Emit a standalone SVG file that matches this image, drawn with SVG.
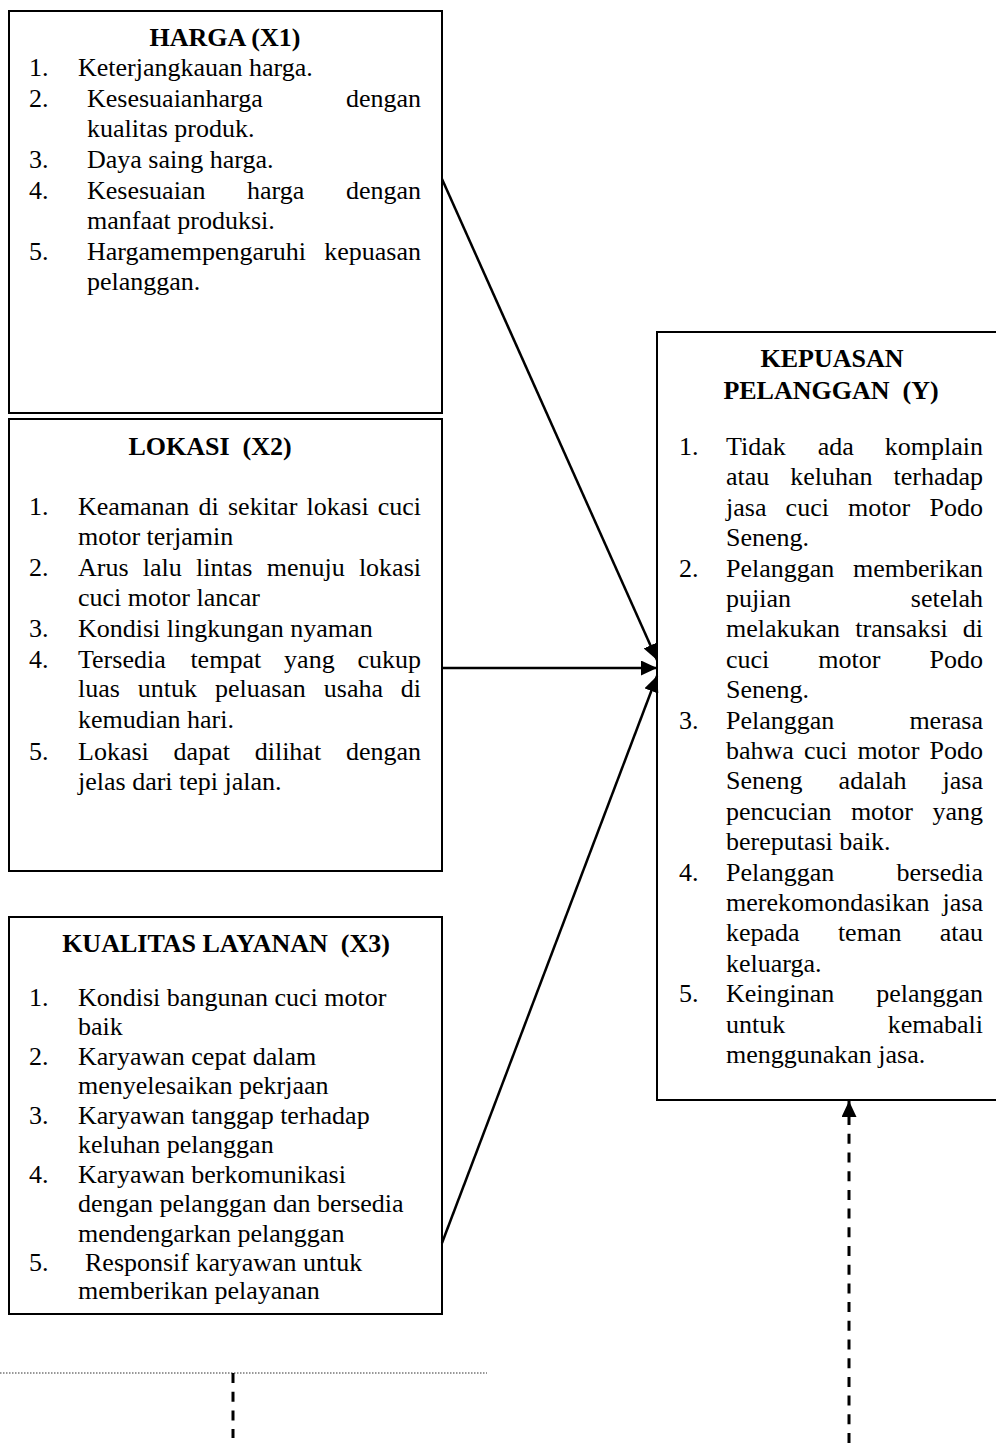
<svg xmlns="http://www.w3.org/2000/svg" width="996" height="1443" viewBox="0 0 996 1443">
<style>
text{font-family:"Liberation Serif","Times New Roman",serif;font-size:26px;fill:#000}
.h{font-weight:bold;text-anchor:middle}
.e{text-anchor:end}
.box{fill:#fff;stroke:#000;stroke-width:2}
.ln{fill:none;stroke:#000;stroke-width:2.5}
.dash{fill:none;stroke:#000;stroke-width:3;stroke-dasharray:10 8.7}
.dot{fill:none;stroke:#333;stroke-width:1.2;stroke-dasharray:1.5 1.5}
</style>
<defs>
<marker id="ah" viewBox="0 0 16 15" markerWidth="16" markerHeight="15" refX="16" refY="7.5" orient="auto" markerUnits="userSpaceOnUse">
<path d="M0,0 L16,7.5 L0,15 z" fill="#000"/>
</marker>
</defs>
<rect width="996" height="1443" fill="#fff"/>

<g id="harga">
<rect class="box" x="9" y="11" width="433" height="402"/>
<text class="h" x="225" y="46">HARGA (X1)</text>
<text x="29" y="76">1.</text><text x="78" y="76">Keterjangkauan harga.</text>
<text x="29" y="107">2.</text><text x="87" y="107">Kesesuaianharga</text><text class="e" x="421" y="107">dengan</text>
<text x="87" y="137">kualitas produk.</text>
<text x="29" y="168">3.</text><text x="87" y="168">Daya saing harga.</text>
<text x="29" y="199">4.</text><text x="87" y="199">Kesesuaian</text><text x="247" y="199">harga</text><text class="e" x="421" y="199">dengan</text>
<text x="87" y="229">manfaat produksi.</text>
<text x="29" y="260">5.</text><text x="87" y="260">Hargamempengaruhi</text><text class="e" x="421" y="260">kepuasan</text>
<text x="87" y="290">pelanggan.</text>
</g>

<g id="lokasi">
<rect class="box" x="9" y="419" width="433" height="452"/>
<text class="h" x="210" y="455">LOKASI&#160; (X2)</text>
<text x="29" y="515">1.</text><text x="78" y="515">Keamanan</text><text x="198.5" y="515">di</text><text x="228" y="515">sekitar</text><text x="306.5" y="515">lokasi</text><text class="e" x="421" y="515">cuci</text>
<text x="78" y="545">motor terjamin</text>
<text x="29" y="576">2.</text><text x="78" y="576">Arus</text><text x="142.8" y="576">lalu</text><text x="196.1" y="576">lintas</text><text x="266.7" y="576">menuju</text><text class="e" x="421" y="576">lokasi</text>
<text x="78" y="606">cuci motor lancar</text>
<text x="29" y="637">3.</text><text x="78" y="637">Kondisi lingkungan nyaman</text>
<text x="29" y="668">4.</text><text x="78" y="668">Tersedia</text><text x="190.4" y="668">tempat</text><text x="284.1" y="668">yang</text><text class="e" x="421" y="668">cukup</text>
<text x="78" y="697">luas</text><text x="137.8" y="697">untuk</text><text x="214.9" y="697">peluasan</text><text x="323.8" y="697">usaha</text><text class="e" x="421" y="697">di</text>
<text x="78" y="728">kemudian hari.</text>
<text x="29" y="760">5.</text><text x="78" y="760">Lokasi</text><text x="173.6" y="760">dapat</text><text x="254.7" y="760">dilihat</text><text class="e" x="421" y="760">dengan</text>
<text x="78" y="790">jelas dari tepi jalan.</text>
</g>

<g id="kualitas">
<rect class="box" x="9" y="917" width="433" height="397"/>
<text class="h" x="226" y="952">KUALITAS LAYANAN&#160; (X3)</text>
<text x="29" y="1006">1.</text><text x="78" y="1006">Kondisi bangunan cuci motor</text>
<text x="78" y="1035">baik</text>
<text x="29" y="1065">2.</text><text x="78" y="1065">Karyawan cepat dalam</text>
<text x="78" y="1094">menyelesaikan pekrjaan</text>
<text x="29" y="1124">3.</text><text x="78" y="1124">Karyawan tanggap terhadap</text>
<text x="78" y="1153">keluhan pelanggan</text>
<text x="29" y="1183">4.</text><text x="78" y="1183">Karyawan berkomunikasi</text>
<text x="78" y="1212">dengan pelanggan dan bersedia</text>
<text x="78" y="1242">mendengarkan pelanggan</text>
<text x="29" y="1271">5.</text><text x="85" y="1271">Responsif karyawan untuk</text>
<text x="78" y="1299">memberikan pelayanan</text>
</g>

<g id="kepuasan">
<rect class="box" x="657" y="332" width="345" height="768"/>
<text class="h" x="832" y="367">KEPUASAN</text>
<text class="h" x="831" y="399">PELANGGAN&#160; (Y)</text>
<text x="679" y="455">1.</text><text x="726" y="455">Tidak</text><text x="817.7" y="455">ada</text><text class="e" x="983" y="455">komplain</text>
<text x="726" y="485.4">atau</text><text x="790.3" y="485.4">keluhan</text><text class="e" x="983" y="485.4">terhadap</text>
<text x="726" y="515.8">jasa</text><text x="785.6" y="515.8">cuci</text><text x="848.1" y="515.8">motor</text><text class="e" x="983" y="515.8">Podo</text>
<text x="726" y="546.2">Seneng.</text>
<text x="679" y="576.6">2.</text><text x="726" y="576.6">Pelanggan</text><text class="e" x="983" y="576.6">memberikan</text>
<text x="726" y="607">pujian</text><text class="e" x="983" y="607">setelah</text>
<text x="726" y="637.4">melakukan</text><text x="855.3" y="637.4">transaksi</text><text class="e" x="983" y="637.4">di</text>
<text x="726" y="667.8">cuci</text><text x="818.3" y="667.8">motor</text><text class="e" x="983" y="667.8">Podo</text>
<text x="726" y="698.2">Seneng.</text>
<text x="679" y="728.6">3.</text><text x="726" y="728.6">Pelanggan</text><text class="e" x="983" y="728.6">merasa</text>
<text x="726" y="759">bahwa</text><text x="804" y="759">cuci</text><text x="857.4" y="759">motor</text><text class="e" x="983" y="759">Podo</text>
<text x="726" y="789.4">Seneng</text><text x="838.6" y="789.4">adalah</text><text class="e" x="983" y="789.4">jasa</text>
<text x="726" y="819.8">pencucian</text><text x="850.9" y="819.8">motor</text><text class="e" x="983" y="819.8">yang</text>
<text x="726" y="850.2">bereputasi baik.</text>
<text x="679" y="880.6">4.</text><text x="726" y="880.6">Pelanggan</text><text class="e" x="983" y="880.6">bersedia</text>
<text x="726" y="911">merekomondasikan</text><text class="e" x="983" y="911">jasa</text>
<text x="726" y="941.4">kepada</text><text x="837.9" y="941.4">teman</text><text class="e" x="983" y="941.4">atau</text>
<text x="726" y="971.8">keluarga.</text>
<text x="679" y="1002.2">5.</text><text x="726" y="1002.2">Keinginan</text><text class="e" x="983" y="1002.2">pelanggan</text>
<text x="726" y="1032.6">untuk</text><text class="e" x="983" y="1032.6">kemabali</text>
<text x="726" y="1063">menggunakan jasa.</text>
</g>

<g id="connectors">
<line class="ln" x1="442" y1="179" x2="657" y2="660" marker-end="url(#ah)"/>
<line class="ln" x1="442" y1="668" x2="657" y2="668" marker-end="url(#ah)"/>
<line class="ln" x1="442" y1="1243" x2="657" y2="676" marker-end="url(#ah)"/>
<line class="dash" x1="849" y1="1443" x2="849" y2="1101" marker-end="url(#ah)"/>
<line class="dot" x1="0" y1="1373" x2="487" y2="1373"/>
<line class="dash" x1="233" y1="1373" x2="233" y2="1438"/>
</g>
</svg>
